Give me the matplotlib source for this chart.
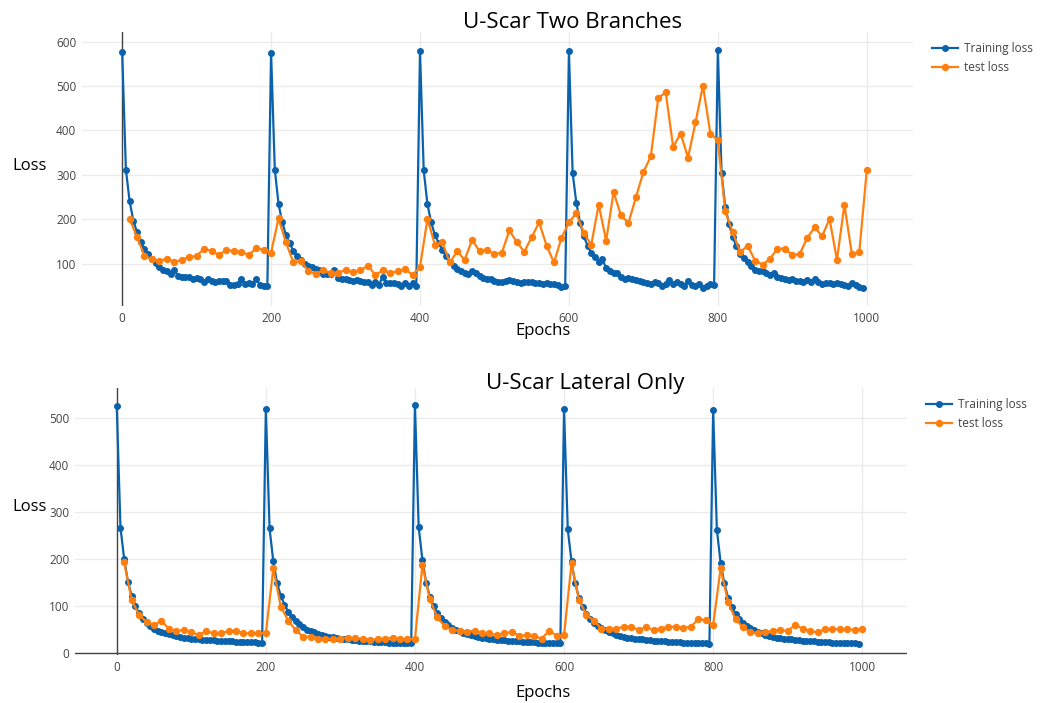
import numpy as np
import matplotlib.pyplot as plt

# data (train every 5 epochs, test every 10)
train_epochs = np.arange(0, 1000, 5)
test_epochs = np.arange(10, 1001, 10)

train_two = [
    577, 312, 241, 197, 171, 149, 133, 122, 110, 101, 92, 86, 83, 78, 86, 73, 71, 71, 71, 66,
    69, 66, 60, 66, 62, 60, 62, 62, 62, 53, 53, 54, 66, 54, 57, 54, 66, 53, 51, 50,
    575, 312, 235, 193, 165, 147, 128, 118, 109, 100, 96, 92, 89, 85, 78, 76, 78, 85, 68, 66,
    66, 64, 62, 64, 62, 60, 58, 53, 58, 53, 71, 57, 57, 57, 54, 49, 57, 49, 56, 50,
    578, 310, 234, 193, 165, 147, 132, 118, 105, 94, 88, 84, 80, 78, 83, 80, 73, 69, 66, 66,
    62, 58, 59, 62, 64, 62, 59, 56, 59, 60, 59, 57, 56, 54, 56, 55, 54, 52, 48, 50,
    578, 304, 237, 192, 162, 141, 125, 115, 105, 110, 90, 83, 79, 80, 71, 66, 68, 66, 64, 62,
    59, 57, 55, 60, 57, 51, 55, 64, 54, 60, 55, 51, 62, 53, 49, 54, 45, 51, 54, 53,
    582, 304, 228, 190, 160, 139, 123, 113, 103, 94, 85, 83, 83, 80, 75, 79, 71, 69, 66, 64,
    66, 62, 62, 60, 64, 60, 66, 60, 55, 56, 57, 55, 56, 55, 53, 50, 57, 53, 47, 45,
]
test_two = [
    201, 160, 118, 110, 107, 111, 104, 109, 115, 118, 134, 129, 120, 131, 129, 127, 120, 135, 132, 125,
    202, 148, 103, 107, 83, 78, 85, 79, 80, 86, 81, 85, 96, 75, 85, 80, 83, 88, 75, 93,
    201, 143, 148, 103, 128, 109, 154, 128, 130, 122, 125, 175, 149, 127, 160, 193, 141, 103, 158, 193,
    214, 169, 143, 233, 152, 261, 209, 192, 250, 306, 342, 473, 486, 363, 393, 339, 418, 501, 393, 378,
    218, 171, 126, 141, 107, 98, 111, 134, 134, 120, 122, 158, 182, 162, 201, 109, 233, 122, 126, 310,
]

train_lat = [
    525, 267, 200, 152, 122, 100, 85, 73, 64, 57, 52, 48, 45, 42, 40, 38, 36, 35, 33, 32,
    31, 30, 29, 28.5, 28, 27.5, 27, 26.5, 26, 25.5, 25, 25, 24.5, 24, 24, 23.5, 23, 23, 22.5, 22,
    520, 265, 195, 150, 122, 103, 88, 77, 68, 61, 55, 50, 47, 44, 41, 39, 37, 35, 34, 33,
    31, 30, 29, 28, 27, 26.5, 26, 25.5, 25, 24.5, 24, 23.5, 23, 22.5, 22, 22, 21.5, 21, 21, 20.5,
    528, 268, 198, 150, 120, 100, 86, 75, 66, 59, 54, 50, 46, 43, 40, 38, 36, 34, 33, 32,
    30, 29, 28.5, 28, 27, 26.5, 26, 25.5, 25, 24.5, 24, 23.5, 23, 22.5, 22, 22, 21.5, 21, 21, 20.5,
    518, 263, 195, 148, 118, 98, 84, 73, 64, 58, 53, 49, 45, 42, 39, 37, 35, 33, 32, 31,
    30, 29, 28, 27, 26.5, 26, 25.5, 25, 24.5, 24, 23.5, 23, 22.5, 22, 22, 21.5, 21, 21, 20.5, 20,
    517, 262, 192, 148, 118, 98, 84, 73, 64, 58, 53, 49, 45, 42, 39, 37, 35, 33, 32, 31,
    30, 29, 28, 27, 26.5, 26, 25.5, 25, 24.5, 24, 23.5, 23, 22.5, 22, 22, 21.5, 21, 21, 20.5, 20,
]
test_lat = [
    193, 113, 81, 66, 60, 68, 52, 47, 49, 45, 38, 47, 42, 42, 47, 48, 42, 42, 43, 42,
    180, 99, 69, 49, 35, 35, 31, 31, 30, 31, 33, 32, 30, 28, 30, 30, 33, 30, 30, 30,
    187, 114, 76, 57, 49, 48, 45, 48, 42, 42, 38, 42, 45, 37, 38, 36, 31, 47, 37, 38,
    191, 113, 81, 69, 52, 52, 52, 56, 56, 49, 55, 49, 52, 56, 56, 54, 56, 72, 70, 60,
    180, 109, 72, 55, 44, 43, 45, 47, 49, 47, 60, 52, 47, 44, 51, 51, 51, 51, 49, 52,
]

x_ticks = [0, 200, 400, 600, 800, 1000]

BLUE = "#0a62ac"
ORANGE = "#ff7f0e"
plt.rcParams["font.family"] = ["Open Sans", "DejaVu Sans"]

fig = plt.figure(figsize=(10.4, 7.03), dpi=100)
ax1 = fig.add_axes([0.0788, 0.5647, 0.799, 0.390])
ax2 = fig.add_axes([0.0721, 0.0683, 0.800, 0.380])


def style(ax, yticks, xlim, ylim, draw_y0):
    ax.set_xlim(*xlim)
    ax.set_ylim(*ylim)
    ax.set_xticks(x_ticks)
    ax.set_yticks(yticks)
    ax.grid(True, color="#ebebeb", linewidth=1)
    ax.set_axisbelow(True)
    for sp in ax.spines.values():
        sp.set_visible(False)
    ax.tick_params(length=0, labelsize=8.5, labelcolor="#444444", pad=4)
    ax.axvline(0, color="#444444", linewidth=1, zorder=1)
    if draw_y0:
        ax.axhline(0, color="#444444", linewidth=1, zorder=1)


for ax, tr, te in [(ax1, train_two, test_two), (ax2, train_lat, test_lat)]:
    ax.plot(train_epochs, tr, "-o", color=BLUE, lw=1.6, ms=4, label="Training loss", zorder=3)
    ax.plot(test_epochs, te, "-o", color=ORANGE, lw=1.6, ms=4.3, label="test loss", zorder=4)

style(ax1, [100, 200, 300, 400, 500, 600], (-54, 1062), (5, 622), False)
style(ax2, [0, 100, 200, 300, 400, 500], (-56, 1060), (-4, 564), True)

for ax in (ax1, ax2):
    ax.legend(loc="upper left", bbox_to_anchor=(1.01, 1.0), frameon=False, fontsize=8.5,
              handlelength=2.2, handletextpad=0.5, labelcolor="#444444")

fig.text(0.551, 0.968, "U-Scar Two Branches", ha="center", va="center", fontsize=16)
fig.text(0.563, 1 - 383 / 703, "U-Scar Lateral Only", ha="center", va="center", fontsize=16)
fig.text(0.028, 1 - 166 / 703, "Loss", ha="center", va="center", fontsize=12)
fig.text(0.028, 1 - 507 / 703, "Loss", ha="center", va="center", fontsize=12)
fig.text(0.522, 1 - 331 / 703, "Epochs", ha="center", va="center", fontsize=12)
fig.text(0.522, 1 - 693 / 703, "Epochs", ha="center", va="center", fontsize=12)

fig.savefig("out.png", dpi=100)
